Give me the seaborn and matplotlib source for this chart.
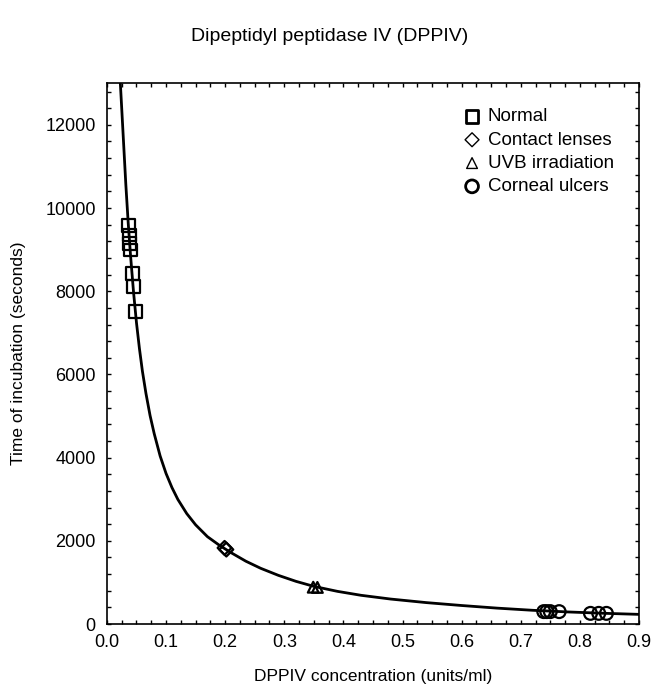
import pandas as pd
import matplotlib.pyplot as plt
import seaborn as sns
from matplotlib.ticker import MultipleLocator

# valores
normal_x = [0.036, 0.038, 0.038, 0.040, 0.043, 0.0445, 0.049]
normal_y = [9575, 9350, 9150, 8990, 8430, 8110, 7520]
lentes_x = [0.199, 0.202]
lentes_y = [1830, 1790]
uvb_x = [0.349, 0.356]
uvb_y = [885, 880]
ulcera_x = [0.739, 0.744, 0.750, 0.765, 0.818, 0.832, 0.845]
ulcera_y = [298, 298, 298, 298, 256, 256, 256]

# curva ajustada (pontos lidos ao longo da linha)
curva_x = [0.022, 0.025, 0.028, 0.032, 0.036, 0.040, 0.045, 0.050, 0.055, 0.060,
           0.066, 0.073, 0.080, 0.090, 0.100, 0.110, 0.120, 0.135, 0.150, 0.170,
           0.190, 0.210, 0.235, 0.260, 0.290, 0.320, 0.350, 0.390, 0.430, 0.480,
           0.540, 0.600, 0.660, 0.720, 0.780, 0.840, 0.900]
curva_y = [13180, 12400, 11610, 10560, 9640, 8850, 7980, 7240, 6620, 6080,
           5545, 5010, 4575, 4040, 3620, 3280, 2995, 2655, 2385, 2100,
           1895, 1715, 1510, 1340, 1170, 1025, 905, 785, 690, 600,
           515, 445, 382, 330, 290, 258, 232]

plt.rcParams['font.family'] = ['Liberation Sans', 'DejaVu Sans']

fig = plt.figure(figsize=(6.52, 6.88), dpi=100)
ax = fig.add_axes([0.164, 0.093, 0.816, 0.786])

sns.lineplot(x=curva_x, y=curva_y, color='black', linewidth=2, ax=ax, sort=False)

grupos = [
    (normal_x, normal_y, 's', 85, 'Normal'),
    (lentes_x, lentes_y, 'D', 50, 'Contact lenses'),
    (uvb_x, uvb_y, '^', 60, 'UVB irradiation'),
    (ulcera_x, ulcera_y, 'o', 85, 'Corneal ulcers'),
]
for gx, gy, m, s, nome in grupos:
    sns.scatterplot(x=gx, y=gy, marker=m, s=s, facecolor='none',
                    edgecolor='black', linewidth=1.6, ax=ax, label=nome, zorder=3)

ax.set_xlim(0, 0.9)
ax.set_ylim(0, 13000)
ax.xaxis.set_major_locator(MultipleLocator(0.1))
ax.xaxis.set_minor_locator(MultipleLocator(0.025))
ax.yaxis.set_major_locator(MultipleLocator(2000))
ax.yaxis.set_minor_locator(MultipleLocator(400))
ax.xaxis.set_major_formatter(plt.FuncFormatter(lambda v, p: f'{v:.1f}'))
ax.tick_params(which='both', direction='in', top=True, right=True,
               length=3, width=1, labelsize=13)
ax.tick_params(axis='x', pad=7)
ax.tick_params(axis='y', pad=8)
for sp in ax.spines.values():
    sp.set_linewidth(1.2)

ax.set_xlabel('DPPIV concentration (units/ml)', fontsize=12.5, labelpad=13)
ax.set_ylabel('Time of incubation (seconds)', fontsize=12.5, labelpad=14)
fig.suptitle('Dipeptidyl peptidase IV (DPPIV)', fontsize=14, x=0.505, y=0.96)

leg = ax.legend(frameon=False, loc='upper right', bbox_to_anchor=(0.985, 0.985),
                fontsize=13.5, handletextpad=0.25, labelspacing=0.33,
                handlelength=1.2)
for h, lw in zip(leg.legend_handles, [2, 1, 1, 2]):
    h.set_linewidth(lw)
    h.set_facecolor('none')
    h.set_edgecolor('black')

fig.savefig('out.png', dpi=100)
